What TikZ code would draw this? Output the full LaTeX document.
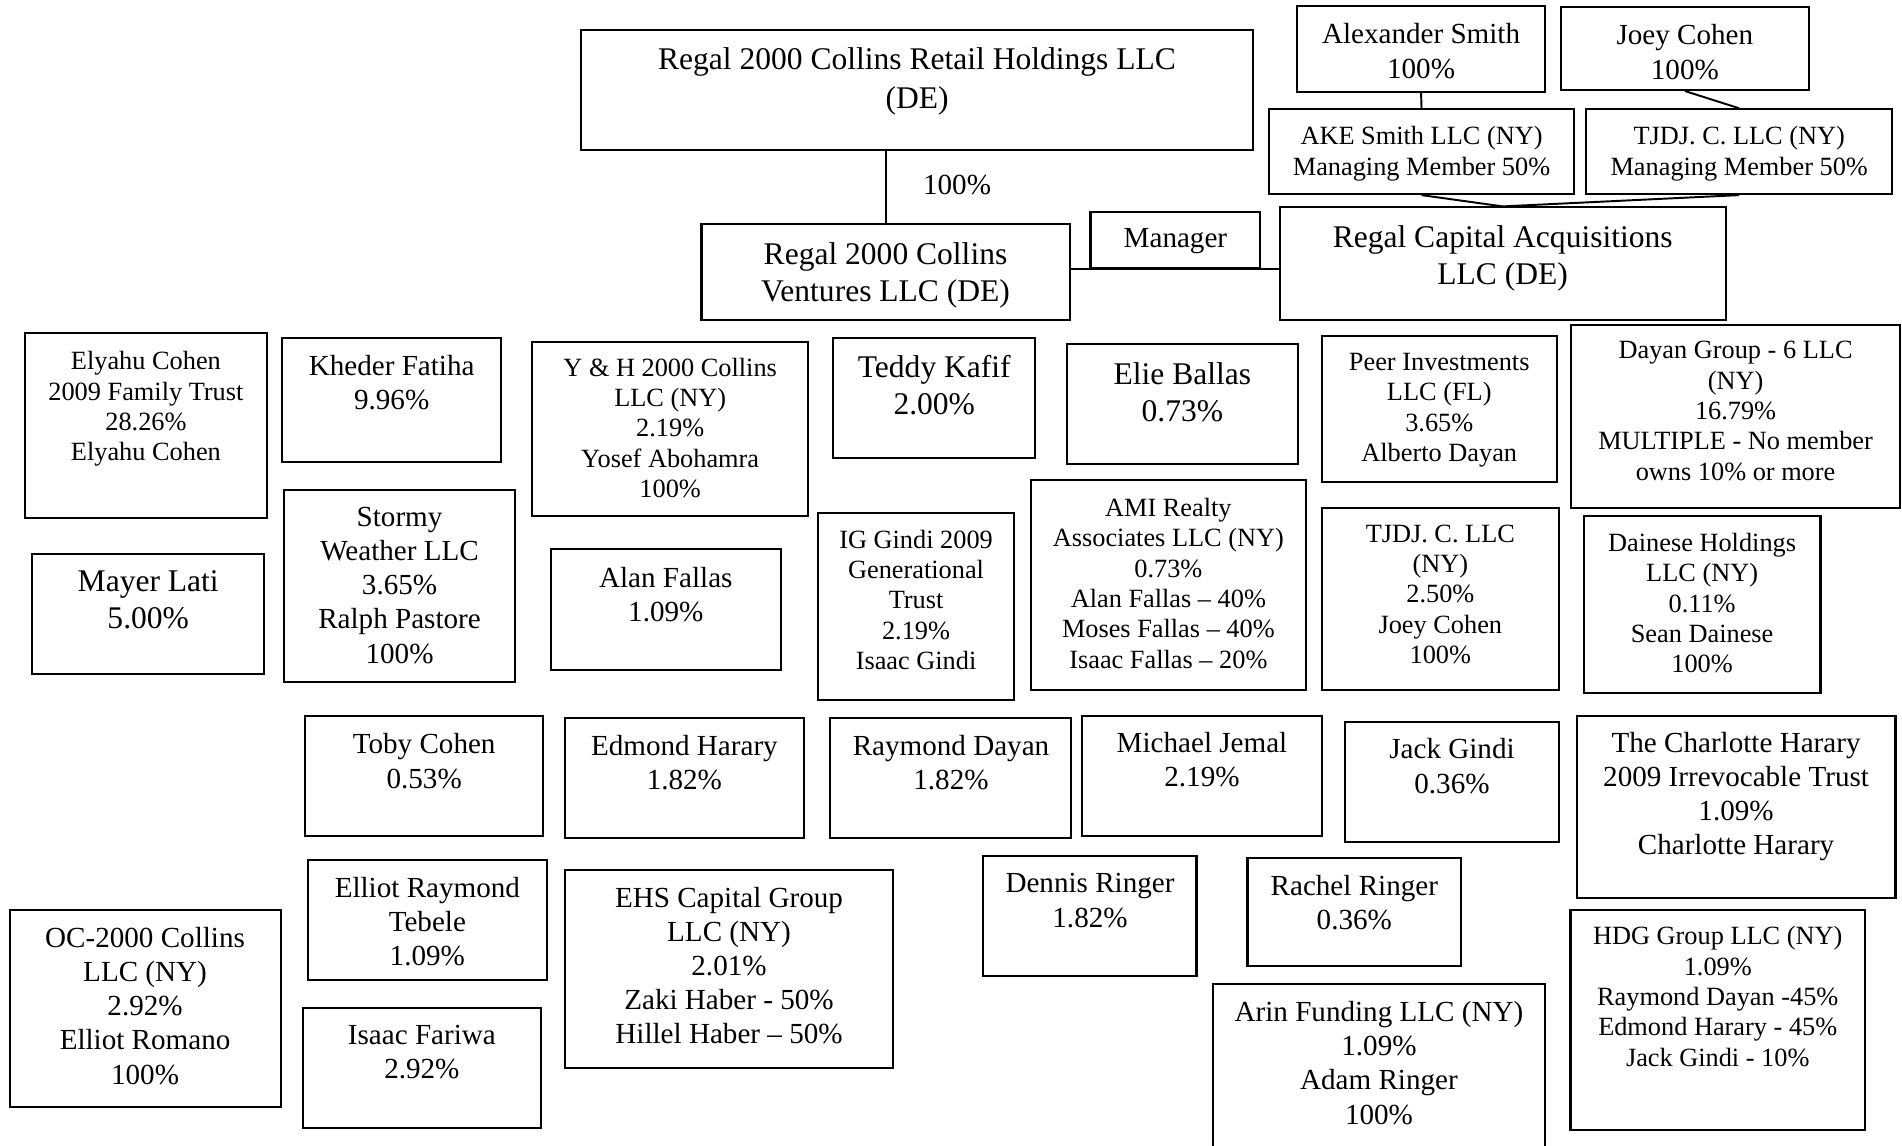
\documentclass[tikz,border=0pt]{standalone}
\usepackage{fontspec}
\setmainfont{Liberation Serif}
\usetikzlibrary{fit}
\begin{document}
\begin{tikzpicture}[x=1pt,y=-1pt,
 box/.style={draw, line width=1.7pt, inner sep=0pt, rectangle},
 big/.style={font=\fontsize{26}{30.5}\selectfont, align=center, inner sep=0pt, anchor=north, yshift=1.5pt},
 med/.style={font=\fontsize{24}{28.2}\selectfont, align=center, inner sep=0pt, anchor=north, yshift=1.2pt},
 sml/.style={font=\fontsize{21.7}{25}\selectfont, align=center, inner sep=0pt, anchor=north, yshift=1pt},
 link/.style={line width=1.6pt}]
\useasboundingbox (0,0) rectangle (1568,944);
\clip (0,0) rectangle (1568,944);
% boxes
\node[box, fit={(478.8,24.7) (1033.3,123.7)}] (top) {};
\node[box, fit={(578.3,184.7) (881.8,263.8)}] (ventures) {};
\node[box, fit={(899,175) (1039,221)}] (manager) {};
\node[box, fit={(1055,171) (1422.6,263.8)}] (rca) {};
\node[box, fit={(1069,4.7) (1274,75.6)}] (alex) {};
\node[box, fit={(1287,6) (1491,74.2)}] (joey) {};
\node[box, fit={(1046,90.1) (1297.8,160)}] (ake) {};
\node[box, fit={(1307.8,90.1) (1559.7,160)}] (tjdjny) {};
\node[box, fit={(20.7,274.8) (219.9,427)}] (elyahu) {};
\node[box, fit={(232.8,278.9) (413,380.6)}] (kheder) {};
\node[box, fit={(438.9,281.7) (666.1,425.4)}] (yh) {};
\node[box, fit={(686.7,278.9) (853.6,377.3)}] (teddy) {};
\node[box, fit={(879.6,283.6) (1069.8,382.8)}] (elie) {};
\node[box, fit={(1089.5,276.7) (1283.5,397.7)}] (peer) {};
\node[box, fit={(1295.2,268) (1566.4,419.1)}] (dayan) {};
\node[box, fit={(26.7,456.7) (217.7,555.6)}] (mayer) {};
\node[box, fit={(234.1,404) (424.7,562.5)}] (stormy) {};
\node[box, fit={(454,452.9) (643.7,552.3)}] (alan) {};
\node[box, fit={(674,422.7) (836.3,577)}] (ig) {};
\node[box, fit={(849.6,395.7) (1076.7,568.9)}] (ami) {};
\node[box, fit={(1089.5,419.1) (1285.3,568.9)}] (tjdjc) {};
\node[box, fit={(1305.5,425.4) (1500.8,571)}] (dainese) {};
\node[box, fit={(251.3,590) (448,689.2)}] (toby) {};
\node[box, fit={(465.8,592.2) (662.5,691.1)}] (edmond) {};
\node[box, fit={(684.6,592.2) (883.3,691.1)}] (raymond) {};
\node[box, fit={(892.3,590) (1089.5,688.9)}] (michael) {};
\node[box, fit={(1108.6,594.9) (1285.3,694.4)}] (jack) {};
\node[box, fit={(1299.8,590) (1562.6,740)}] (charlotte) {};
\node[box, fit={(253.9,709) (450.6,807.9)}] (elliot) {};
\node[box, fit={(465.8,717.2) (736.1,880.2)}] (ehs) {};
\node[box, fit={(810.7,705.4) (986.4,804.6)}] (dennis) {};
\node[box, fit={(1028.4,707.1) (1204.6,796.4)}] (rachel) {};
\node[box, fit={(7.9,750.2) (231.3,912.3)}] (oc) {};
\node[box, fit={(249.7,831.3) (445.9,929.6)}] (isaac) {};
\node[box, fit={(999.9,811.2) (1273.7,960)}] (arin) {};
\node[box, fit={(1294.7,750.2) (1537.5,931.6)}] (hdg) {};
% texts
\node[big, font=\fontsize{26}{32.5}\selectfont] (top-t) at (756,40.4) {Regal 2000 Collins Retail Holdings LLC\\(DE)};
\node[med] (pct) at (789,145.5) {100\%};
\node[big] (ventures-t) at (730,201.1) {Regal 2000 Collins\\Ventures LLC (DE)};
\node[med] (manager-t) at (969,189.5) {Manager};
\node[big] (rca-t) at (1238.8,187.4) {Regal Capital Acquisitions\\LLC (DE)};
\node[med] (alex-t) at (1171.5,20.5) {Alexander Smith\\100\%};
\node[med] (joey-t) at (1389,21.3) {Joey Cohen\\100\%};
\node[sml] (ake-t) at (1171.9,105.1) {AKE Smith LLC (NY)\\Managing Member 50\%};
\node[sml] (tjdjny-t) at (1433.8,105.1) {TJDJ. C. LLC (NY)\\Managing Member 50\%};
\node[sml] (elyahu-t) at (120.3,290.6) {Elyahu Cohen\\2009 Family Trust\\28.26\%\\Elyahu Cohen};
\node[med] (kheder-t) at (322.9,293.9) {Kheder Fatiha\\9.96\%};
\node[sml] (yh-t) at (552.5,296) {Y \& H 2000 Collins\\LLC (NY)\\2.19\%\\Yosef Abohamra\\100\%};
\node[big] (teddy-t) at (770.2,294.6) {Teddy Kafif\\2.00\%};
\node[big] (elie-t) at (974.7,300.1) {Elie Ballas\\0.73\%};
\node[sml] (peer-t) at (1186.5,292) {Peer Investments\\LLC (FL)\\3.65\%\\Alberto Dayan};
\node[sml] (dayan-t) at (1430.8,282.3) {Dayan Group - 6 LLC\\(NY)\\16.79\%\\MULTIPLE - No member\\owns 10\% or more};
\node[big] (mayer-t) at (122.2,471.8) {Mayer Lati\\5.00\%};
\node[med] (stormy-t) at (329.4,418.9) {Stormy\\Weather LLC\\3.65\%\\Ralph Pastore\\100\%};
\node[med] (alan-t) at (548.9,468.4) {Alan Fallas\\1.09\%};
\node[sml] (ig-t) at (755.2,437.6) {IG Gindi 2009\\Generational\\Trust\\2.19\%\\Isaac Gindi};
\node[sml] (ami-t) at (963.2,411.5) {AMI Realty\\Associates LLC (NY)\\0.73\%\\Alan Fallas – 40\%\\Moses Fallas – 40\%\\Isaac Fallas – 20\%};
\node[sml] (tjdjc-t) at (1187.4,433.5) {TJDJ. C. LLC\\(NY)\\2.50\%\\Joey Cohen\\100\%};
\node[sml] (dainese-t) at (1403.2,440.4) {Dainese Holdings\\LLC (NY)\\0.11\%\\Sean Dainese\\100\%};
\node[med] (toby-t) at (349.7,605.8) {Toby Cohen\\0.53\%};
\node[med] (edmond-t) at (564.2,607.2) {Edmond Harary\\1.82\%};
\node[med] (raymond-t) at (784,607.2) {Raymond Dayan\\1.82\%};
\node[med] (michael-t) at (990.9,604.4) {Michael Jemal\\2.19\%};
\node[med] (jack-t) at (1197,609.9) {Jack Gindi\\0.36\%};
\node[med] (charlotte-t) at (1431.2,604.4) {The Charlotte Harary\\2009 Irrevocable Trust\\1.09\%\\Charlotte Harary};
\node[med] (elliot-t) at (352.3,723.9) {Elliot Raymond\\Tebele\\1.09\%};
\node[med] (ehs-t) at (601,732.2) {EHS Capital Group\\LLC (NY)\\2.01\%\\Zaki Haber - 50\%\\Hillel Haber – 50\%};
\node[med] (dennis-t) at (898.6,721.2) {Dennis Ringer\\1.82\%};
\node[med] (rachel-t) at (1116.5,722.6) {Rachel Ringer\\0.36\%};
\node[med] (oc-t) at (119.6,765.2) {OC-2000 Collins\\LLC (NY)\\2.92\%\\Elliot Romano\\100\%};
\node[med] (isaac-t) at (347.8,846.2) {Isaac Fariwa\\2.92\%};
\node[med] (arin-t) at (1136.8,826.4) {Arin Funding LLC (NY)\\1.09\%\\Adam Ringer\\100\%};
\node[sml] (hdg-t) at (1416.1,764.6) {HDG Group LLC (NY)\\1.09\%\\Raymond Dayan -45\%\\Edmond Harary - 45\%\\Jack Gindi - 10\%};
% connectors
\draw[link] (ventures.north) -- (ventures.north |- top.south);
\draw[link] (ventures.east |- manager.south) -- (rca.west |- manager.south);
\draw[link] (alex.south) -- (ake.north);
\draw[link] (joey.south) -- (tjdjny.north);
\draw[link] (ake.south) -- (rca.north);
\draw[link] (tjdjny.south) -- (rca.north);
\end{tikzpicture}
\end{document}
